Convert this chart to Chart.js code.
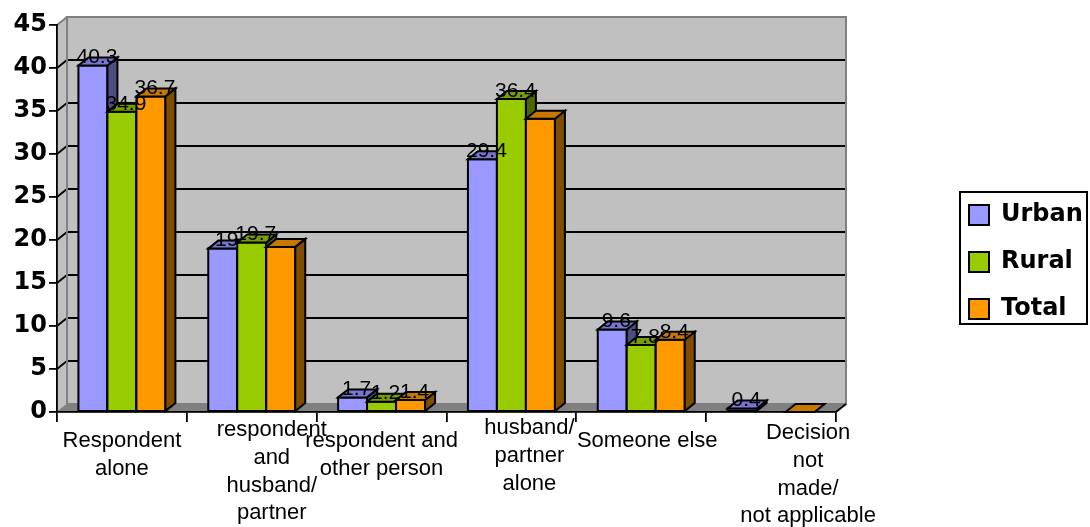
<!DOCTYPE html>
<html>
<head>
<meta charset="utf-8">
<script src="https://cdn.jsdelivr.net/npm/chart.js@4.4.1/dist/chart.umd.min.js"></script>
<style>
  html, body { margin: 0; padding: 0; background: #ffffff; }
  #wrap { width: 1090px; height: 527px; }
</style>
</head>
<body>
<div id="wrap"><canvas id="chart" width="1090" height="527"></canvas></div>
<script>
// Who makes the decision – percentages by place of residence
const categories = [
  ["Respondent", "alone"],
  ["respondent", "and", "husband/", "partner"],
  ["respondent and", "other person"],
  ["husband/", "partner", "alone"],
  ["Someone else"],
  ["Decision", "not", "made/", "not applicable"]
];
const urban = [40.3, 19, 1.7, 29.4, 9.6, 0.4];
const rural = [34.9, 19.7, 1.2, 36.4, 7.8, null];
const total = [36.7, 19.2, 1.4, 34.1, 8.4, 0];

const yMin = 0;
const yMax = 45;
const yStep = 5;

// value labels that are left off the chart, by series and category index
const unlabelled = { Total: [1, 3, 5] };

// nudges [dx, dy] for the wrapped category captions, relative to each category centre
const captionNudge = [[0, 0], [20, -11], [0, 0], [18, -13], [6, 0], [37, -8]];

// depth of the pseudo-3D walls and columns
const DX = 10;
const DY = 8;

const faces = {
  Urban: { front: '#9999FF', top: '#7777D0', side: '#4D4D80' },
  Rural: { front: '#99CC00', top: '#779F00', side: '#4D6600' },
  Total: { front: '#FF9900', top: '#C87800', side: '#804D00' }
};

function poly(ctx, pts, fill, stroke) {
  ctx.beginPath();
  ctx.moveTo(pts[0][0], pts[0][1]);
  for (let k = 1; k < pts.length; k++) ctx.lineTo(pts[k][0], pts[k][1]);
  ctx.closePath();
  if (fill) { ctx.fillStyle = fill; ctx.fill(); }
  if (stroke) { ctx.strokeStyle = stroke; ctx.stroke(); }
}

const plot3d = {
  id: 'plot3d',
  afterLayout(chart) {
    // legend sits in its own framed block right of the plot
    const L = chart.legend;
    L.left = 946; L.right = 1090; L.width = 144;
    L.top = 0; L.bottom = 524; L.height = 524;
  },
  beforeDraw(chart) {
    const { ctx, chartArea: a } = chart;
    const y = chart.scales.y;
    const L = a.left, R = a.right, T = a.top, B = a.bottom;
    ctx.save();
    // back wall and left wall
    ctx.fillStyle = '#C0C0C0';
    ctx.fillRect(L + DX, T - DY, R - L, B - T);
    poly(ctx, [[L, T], [L + DX, T - DY], [L + DX, B - DY], [L, B]], '#C0C0C0', null);
    // gridlines running over the left wall and across the back wall
    ctx.strokeStyle = '#000';
    ctx.lineWidth = 1.8;
    y.ticks.forEach(t => {
      if (t.value <= y.min || t.value >= y.max) return;
      const py = y.getPixelForValue(t.value);
      ctx.beginPath();
      ctx.moveTo(L, py);
      ctx.lineTo(L + DX, py - DY);
      ctx.lineTo(R + DX, py - DY);
      ctx.stroke();
    });
    // wall edges
    ctx.strokeStyle = '#808080';
    ctx.lineWidth = 2;
    ctx.strokeRect(L + DX, T - DY, R - L, B - T);
    ctx.beginPath();
    ctx.moveTo(L, T); ctx.lineTo(L + DX, T - DY);
    ctx.stroke();
    // floor
    ctx.lineWidth = 1;
    poly(ctx, [[L, B], [L + DX, B - DY], [R + DX, B - DY], [R, B]], '#808080', '#808080');
    ctx.strokeStyle = '#000';
    ctx.lineWidth = 1.8;
    ctx.beginPath();
    ctx.moveTo(R, B); ctx.lineTo(R + DX, B - DY);
    ctx.stroke();
    ctx.restore();
  },
  afterDatasetsDraw(chart) {
    const ctx = chart.ctx;
    const n = chart.data.labels.length;
    ctx.save();
    ctx.lineWidth = 2;
    ctx.lineJoin = 'miter';
    // columns, painted category by category so each one covers its left neighbour's side
    for (let i = 0; i < n; i++) {
      chart.data.datasets.forEach((ds, d) => {
        const meta = chart.getDatasetMeta(d);
        const v = ds.data[i];
        if (meta.hidden || v === null || v === undefined) return;
        const el = meta.data[i];
        const { x, y, base, width } = el.getProps(['x', 'y', 'base', 'width'], true);
        const x0 = x - width / 2, x1 = x + width / 2;
        const f = faces[ds.label];
        poly(ctx, [[x0, y], [x1, y], [x1, base], [x0, base]], f.front, '#000');
        poly(ctx, [[x1, y], [x1 + DX, y - DY], [x1 + DX, base - DY], [x1, base]], f.side, '#000');
        poly(ctx, [[x0, y], [x0 + DX, y - DY], [x1 + DX, y - DY], [x1, y]], f.top, '#000');
      });
    }
    // value labels
    ctx.font = '21px "Liberation Sans", Arial, sans-serif';
    ctx.fillStyle = '#000';
    ctx.textAlign = 'center';
    ctx.textBaseline = 'middle';
    chart.data.datasets.forEach((ds, d) => {
      const meta = chart.getDatasetMeta(d);
      const skip = unlabelled[ds.label] || [];
      ds.data.forEach((v, i) => {
        if (v === null || v === undefined || skip.includes(i)) return;
        const el = meta.data[i];
        ctx.fillText(String(v), el.x + 4, el.y - 8);
      });
    });
    ctx.restore();
  },
  afterDraw(chart) {
    const ctx = chart.ctx;
    const xs = chart.scales.x;
    const B = chart.chartArea.bottom;
    ctx.save();
    // wrapped category captions under the floor
    ctx.font = '22px "Liberation Sans", Arial, sans-serif';
    ctx.fillStyle = '#000';
    ctx.textAlign = 'center';
    ctx.textBaseline = 'middle';
    chart.data.labels.forEach((lines, i) => {
      const cx = xs.getPixelForValue(i) + captionNudge[i][0];
      const cy = B + 29 + captionNudge[i][1];
      lines.forEach((line, k) => ctx.fillText(line, cx, cy + k * 27.8));
    });
    // legend frame
    const L = chart.legend;
    const mid = (L.top + L.bottom) / 2;
    ctx.strokeStyle = '#000';
    ctx.lineWidth = 2;
    ctx.strokeRect(L.left + 14, mid - 70, 127, 132);
    ctx.restore();
  }
};

new Chart(document.getElementById('chart'), {
  type: 'bar',
  data: {
    labels: categories,
    datasets: [
      { label: 'Urban', data: urban, backgroundColor: faces.Urban.front, borderColor: '#000', borderWidth: 2 },
      { label: 'Rural', data: rural, backgroundColor: faces.Rural.front, borderColor: '#000', borderWidth: 2 },
      { label: 'Total', data: total, backgroundColor: faces.Total.front, borderColor: '#000', borderWidth: 2 }
    ]
  },
  options: {
    responsive: false,
    animation: false,
    devicePixelRatio: 1,
    events: [],
    layout: { padding: { top: 25, left: 0, right: 254, bottom: 0 } },
    datasets: { bar: { categoryPercentage: 0.67, barPercentage: 1.0 } },
    scales: {
      x: {
        offset: true,
        afterFit: s => { s.height = 115; },
        grid: { display: true, drawOnChartArea: false, offset: true, tickLength: 10, color: '#000', lineWidth: 1.8 },
        border: { display: true, color: '#000', width: 1.8 },
        ticks: { display: false, autoSkip: false }
      },
      y: {
        min: yMin, max: yMax,
        afterFit: s => { s.width = 57; },
        grid: { display: true, drawOnChartArea: false, tickLength: 8, color: '#000', lineWidth: 1.8 },
        border: { display: true, color: '#000', width: 1.8 },
        ticks: {
          stepSize: yStep, padding: 2, color: '#000',
          font: { family: '"DejaVu Sans", sans-serif', size: 24, weight: 'bold' }
        }
      }
    },
    plugins: {
      tooltip: { enabled: false },
      legend: {
        display: true,
        position: 'chartArea',
        align: 'center',
        labels: {
          boxWidth: 20, boxHeight: 20, padding: 23, color: '#000',
          font: { family: '"DejaVu Sans", sans-serif', size: 24, weight: 'bold' },
          generateLabels: chart => Chart.defaults.plugins.legend.labels.generateLabels(chart).map(item => {
            item.strokeStyle = '#000';
            item.lineWidth = 2;
            return item;
          })
        }
      }
    }
  },
  plugins: [plot3d]
});
</script>
</body>
</html>
